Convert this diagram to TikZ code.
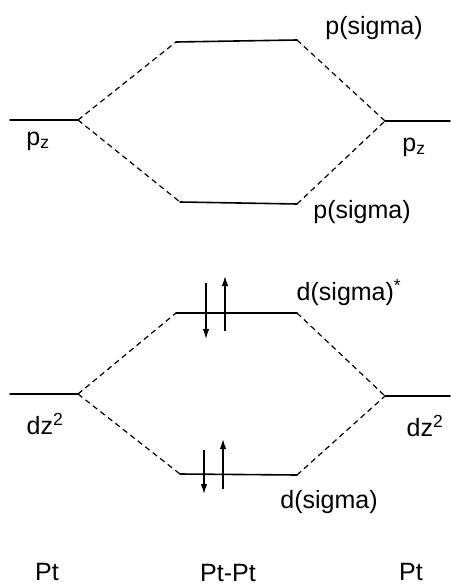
\documentclass[tikz,border=0pt]{standalone}
\usepackage{fontspec}
\setmainfont{Liberation Sans}
\usetikzlibrary{arrows.meta}

\begin{document}
\begin{tikzpicture}[
  x=1pt, y=-1pt,
  font=\fontsize{25}{28}\selectfont,
  level/.style={line width=1.6pt, line cap=round},
  corr/.style={line width=1.2pt, dashed, dash pattern=on 5.5pt off 4pt},
  spin/.style={-{Latex[length=10pt,width=6.5pt]}, line width=1.3pt},
  lbl/.style={inner sep=0pt, anchor=center}
]
  \useasboundingbox (0,0) rectangle (450,588);

  % p manifold
  \coordinate (pzLa) at (10,120);
  \coordinate (pzL) at (78,120);
  \coordinate (pzR) at (385,121);
  \coordinate (pzRa) at (450,121);
  \coordinate (psA1) at (176,42);
  \coordinate (psA2) at (297,40);
  \coordinate (psB1) at (180,202);
  \coordinate (psB2) at (297,204);

  \draw[level] (pzLa) -- (pzL);
  \draw[level] (pzR) -- (pzRa);
  \draw[level] (psA1) -- (psA2);
  \draw[level] (psB1) -- (psB2);
  \draw[corr] (pzL) -- (psA1);
  \draw[corr] (pzL) -- (psB1);
  \draw[corr] (psA2) -- (pzR);
  \draw[corr] (psB2) -- (pzR);

  \node[lbl] (pzLlab) at (38,141) {p\textsubscript{z}};
  \node[lbl] (pzRlab) at (414,147) {p\textsubscript{z}};
  \node[lbl] (psAlab) at (374,28) {p(sigma)};
  \node[lbl] (psBlab) at (362,212) {p(sigma)};

  % d manifold
  \coordinate (dzLa) at (10,394);
  \coordinate (dzL) at (78,394);
  \coordinate (dzR) at (385,396);
  \coordinate (dzRa) at (450,396);
  \coordinate (dsA1) at (176,313);
  \coordinate (dsA2) at (297,313);
  \coordinate (dsB1) at (180,474);
  \coordinate (dsB2) at (297,475);

  \draw[level] (dzLa) -- (dzL);
  \draw[level] (dzR) -- (dzRa);
  \draw[level] (dsA1) -- (dsA2);
  \draw[level] (dsB1) -- (dsB2);
  \draw[corr] (dzL) -- (dsA1);
  \draw[corr] (dzL) -- (dsB1);
  \draw[corr] (dsA2) -- (dzR);
  \draw[corr] (dsB2) -- (dzR);

  % electrons
  \coordinate (eA1s) at (206,283);
  \coordinate (eA1e) at (206,339);
  \coordinate (eA2s) at (225,331);
  \coordinate (eA2e) at (225,276);
  \coordinate (eB1s) at (204,450);
  \coordinate (eB1e) at (204,494);
  \coordinate (eB2s) at (223,489);
  \coordinate (eB2e) at (223,439);
  \draw[spin] (eA1s) -- (eA1e);
  \draw[spin] (eA2s) -- (eA2e);
  \draw[spin] (eB1s) -- (eB1e);
  \draw[spin] (eB2s) -- (eB2e);

  \node[lbl] (dzLlab) at (45,424) {dz\textsuperscript{2}};
  \node[lbl] (dzRlab) at (425,426) {dz\textsuperscript{2}};
  \node[lbl] (dsAlab) at (349,293) {d(sigma)\textsuperscript{*}};
  \node[lbl] (dsBlab) at (329,502) {d(sigma)};

  % atoms
  \node[lbl] (ptL) at (47,572) {Pt};
  \node[lbl] (ptM) at (228,573) {Pt-Pt};
  \node[lbl] (ptR) at (411,572) {Pt};
\end{tikzpicture}
\end{document}
